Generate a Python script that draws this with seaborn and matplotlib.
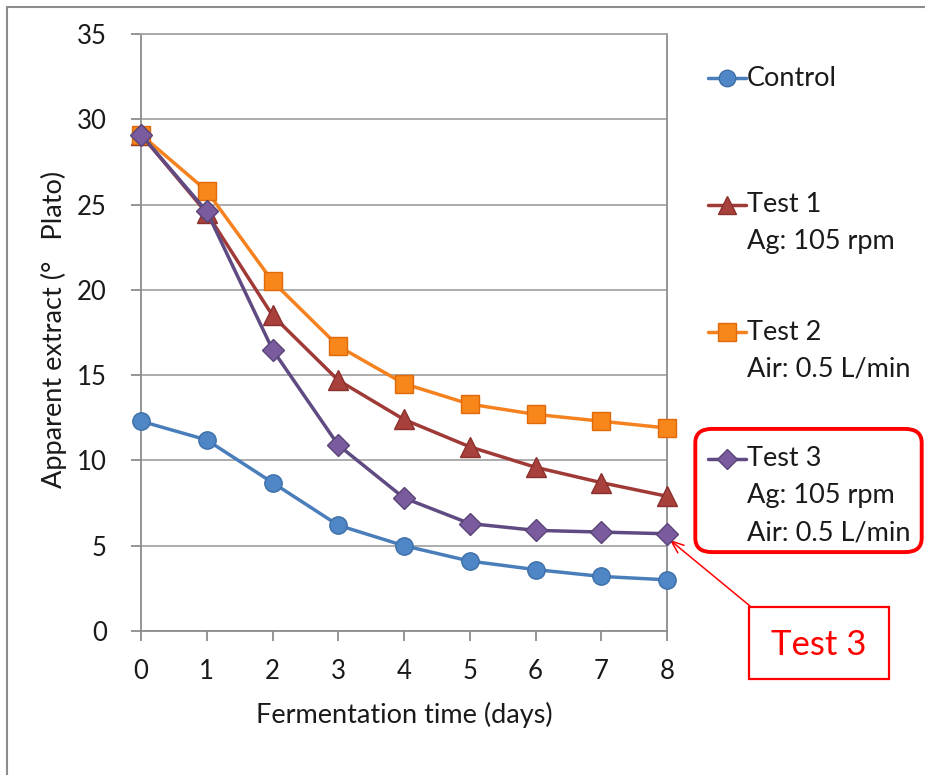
import matplotlib
matplotlib.use("Agg")
import matplotlib.pyplot as plt
from matplotlib.lines import Line2D
from matplotlib.patches import FancyBboxPatch, Rectangle
import seaborn as sns
import pandas as pd

# ---- data ----
days = [0, 1, 2, 3, 4, 5, 6, 7, 8]
control = [12.3, 11.2, 8.7, 6.2, 5.0, 4.1, 3.6, 3.2, 3.0]
test1 = [29.1, 24.5, 18.5, 14.7, 12.4, 10.8, 9.6, 8.7, 7.9]
test2 = [29.1, 25.8, 20.5, 16.7, 14.5, 13.3, 12.7, 12.3, 11.9]
test3 = [29.1, 24.6, 16.5, 10.9, 7.8, 6.3, 5.9, 5.8, 5.7]
series_names = ["Control", "Test 1", "Test 2", "Test 3"]
legend_sublines = {"Control": [], "Test 1": ["Ag: 105 rpm"],
                   "Test 2": ["Air: 0.5 L/min"],
                   "Test 3": ["Ag: 105 rpm", "Air: 0.5 L/min"]}
y_ticks = [0, 5, 10, 15, 20, 25, 30, 35]
x_label = "Fermentation time (days)"
y_label = "Apparent extract (°   Plato)"
callout_text = "Test 3"

rows = []
for name, vals in zip(series_names, [control, test1, test2, test3]):
    for d, v in zip(days, vals):
        rows.append({"day": d, "value": v, "series": name})
df = pd.DataFrame(rows)

line_colors = {"Control": "#4A7EBB", "Test 1": "#A03A36",
               "Test 2": "#F5821F", "Test 3": "#5F4A82"}
face_colors = {"Control": "#4F86C6", "Test 1": "#A8403C",
               "Test 2": "#F7861B", "Test 3": "#7A5C9E"}
edge_colors = {"Control": "#3E6FA8", "Test 1": "#8C302D",
               "Test 2": "#E06A0A", "Test 3": "#5A4478"}
markers = {"Control": "o", "Test 1": "^", "Test 2": "s", "Test 3": "D"}
msizes = {"Control": 12.5, "Test 1": 14, "Test 2": 13, "Test 3": 11}

sns.set_style("white")
plt.rcParams["font.family"] = ["Lato", "DejaVu Sans"]

W, H = 925, 775
fig = plt.figure(figsize=(W / 100, H / 100), dpi=100)
ax = fig.add_axes([141 / W, 1 - 631 / H, (667 - 141) / W, (631 - 34) / H])

sns.lineplot(data=df, x="day", y="value", hue="series", style="series",
             hue_order=series_names, style_order=series_names,
             palette=line_colors, markers=markers, dashes=False,
             linewidth=2.5, ax=ax, legend=False)

for line, name in zip(ax.get_lines(), series_names):
    line.set_markersize(msizes[name])
    line.set_markerfacecolor(face_colors[name])
    line.set_markeredgecolor(edge_colors[name])
    line.set_markeredgewidth(1.0)
    line.set_zorder(3 + series_names.index(name))
    line.set_clip_on(False)

ax.set_xlim(0, 8)
ax.set_ylim(0, 35)
ax.set_xticks(days)
ax.set_yticks(y_ticks)
ax.grid(axis="y", color="#A6A6A6", linewidth=1.3)
ax.grid(axis="x", visible=False)
for side in ["left", "bottom", "right", "top"]:
    ax.spines[side].set_visible(True)
    ax.spines[side].set_color("#8C8C8C")
    ax.spines[side].set_linewidth(1.3)
ax.spines["top"].set_color("#A6A6A6")
ax.tick_params(axis="y", which="major", length=7.5, width=1.3, color="#8C8C8C",
               direction="out", labelsize=18.5, pad=17, left=True)
ax.tick_params(axis="x", which="major", length=7, width=1.3, color="#8C8C8C",
               direction="out", labelsize=18.5, pad=13, bottom=True)
ax.set_xlabel(x_label, fontsize=19.5, labelpad=13, color="#1a1a1a")
ax.set_ylabel(y_label, fontsize=19.5, labelpad=8, color="#1a1a1a")
ax.yaxis.set_label_coords(-0.14, 0.505)
for t in ax.get_xticklabels() + ax.get_yticklabels():
    t.set_color("#1a1a1a")


def fx(px):
    return px / W


def fy(py):
    return 1 - py / H


# ---- manual legend ----
leg_y0 = 78
leg_pitch = 127
sub_pitch = 37
for i, name in enumerate(series_names):
    yc = leg_y0 + i * leg_pitch
    fig.add_artist(Line2D([fx(708), fx(727), fx(746)], [fy(yc)] * 3,
                          color=line_colors[name], linewidth=2.5,
                          marker=markers[name], markevery=[1],
                          markersize=msizes[name] * 0.95,
                          markerfacecolor=face_colors[name],
                          markeredgecolor=edge_colors[name],
                          transform=fig.transFigure))
    fig.text(fx(747), fy(yc), name, fontsize=19.5, va="center", ha="left",
             color="#1a1a1a")
    for j, sub in enumerate(legend_sublines[name]):
        fig.text(fx(747), fy(yc + (j + 1) * sub_pitch), sub, fontsize=19.5,
                 va="center", ha="left", color="#1a1a1a")

# red rounded box around Test 3 legend entry
fig.add_artist(FancyBboxPatch((fx(699), fy(549)), fx(918) - fx(699),
                              fy(432) - fy(549),
                              boxstyle="round,pad=0.004,rounding_size=0.018",
                              transform=fig.transFigure, fill=False,
                              edgecolor="#FF0000", linewidth=2.8))

# callout box
fig.add_artist(Rectangle((fx(749), fy(679)), fx(889) - fx(749),
                         fy(607) - fy(679), transform=fig.transFigure,
                         fill=True, facecolor="white", edgecolor="#FF0000",
                         linewidth=1.6))
fig.text(fx(819), fy(645), callout_text, fontsize=25, color="#FF0000",
         ha="center", va="center")
ax.annotate("", xy=(8.04, test3[-1] - 0.35), xycoords="data",
            xytext=(fx(750), fy(606)), textcoords="figure fraction",
            arrowprops=dict(arrowstyle="->,head_length=0.9,head_width=0.35",
                            color="#FF0000", linewidth=1.1,
                            shrinkA=0, shrinkB=0),
            annotation_clip=False)

# outer chart-area frame (cropped)
fig.add_artist(Line2D([fx(7), fx(925)], [fy(7), fy(7)], color="#8C8C8C",
                      linewidth=1.5, transform=fig.transFigure))
fig.add_artist(Line2D([fx(7), fx(7)], [fy(7), fy(775)], color="#8C8C8C",
                      linewidth=1.5, transform=fig.transFigure))

fig.savefig("out.png", dpi=100)
